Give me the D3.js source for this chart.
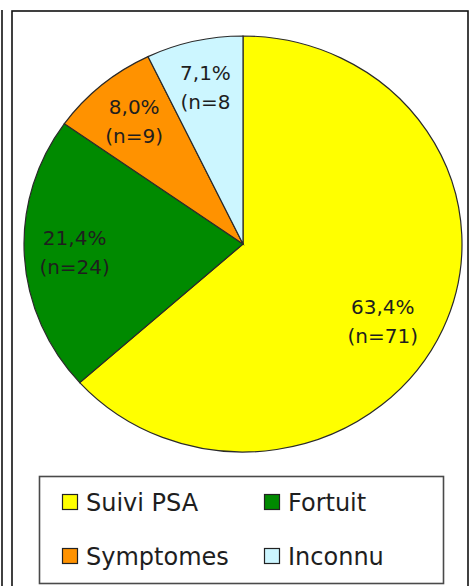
<!DOCTYPE html>
<html>
<head>
<meta charset="utf-8">
<script src="https://cdn.jsdelivr.net/npm/d3@7/dist/d3.min.js"></script>
<style>
html,body{margin:0;padding:0;background:#fff;}
svg{display:block;}
text{font-family:"DejaVu Sans",Verdana,sans-serif;fill:#1e1e1e;}
</style>
</head>
<body>
<svg id="chart" width="472" height="586"></svg>
<script>
const categories = ["Suivi PSA", "Fortuit", "Symptomes", "Inconnu"];
const counts = [71, 24, 9, 8];
const percentLabels = ["63,4%", "21,4%", "8,0%", "7,1%"];
const countLabels = ["(n=71)", "(n=24)", "(n=9)", "(n=8"];
const colors = ["#FFFF00", "#008A00", "#FF9200", "#CCF6FF"];
const legendRows = [["Suivi PSA", "Fortuit"], ["Symptomes", "Inconnu"]];

const svg = d3.select("#chart");

// outer frames
svg.append("line").attr("x1", 2).attr("x2", 2).attr("y1", 10).attr("y2", 586)
  .attr("stroke", "#111").attr("stroke-width", 1.6);
svg.append("rect").attr("x", 12).attr("y", 11).attr("width", 456).attr("height", 590)
  .attr("fill", "none").attr("stroke", "#111").attr("stroke-width", 1.6);

// pie (slightly elliptical)
const cx = 243, cy = 244, rx = 219, ry = 208;
const pie = d3.pie().sort(null).value(d => d)(counts);
const arc = d3.arc().innerRadius(0).outerRadius(ry);
const g = svg.append("g").attr("transform", `translate(${cx},${cy}) scale(${rx / ry},1)`);
g.selectAll("path.slice").data(pie).join("path")
  .attr("class", "slice")
  .attr("d", arc)
  .attr("fill", (d, i) => colors[i])
  .attr("stroke", "#2a2a2a")
  .attr("stroke-width", 1.2)
  .attr("vector-effect", "non-scaling-stroke");

// labels (best-fit style: large slices get their label pulled a bit inward/downward)
const lab = svg.append("g");
pie.forEach((d, i) => {
  const big = (d.endAngle - d.startAngle) > Math.PI;
  const frac = big ? 0.74 : 0.77;
  const shift = big ? 0.11 : 0;
  const r = ry * frac;
  const la = d3.arc().innerRadius(r).outerRadius(r);
  const [px, py] = la.centroid({startAngle: d.startAngle + shift, endAngle: d.endAngle + shift});
  const x = cx + px * rx / ry, y = cy + py;
  const t = lab.append("text").attr("text-anchor", "middle").attr("font-size", 20);
  t.append("tspan").attr("x", x).attr("y", y - 8).text(percentLabels[i]);
  t.append("tspan").attr("x", x).attr("y", y + 21).text(countLabels[i]);
});

// legend
const lg = svg.append("g");
lg.append("rect").attr("x", 39.5).attr("y", 476.5).attr("width", 404).attr("height", 107)
  .attr("fill", "#fff").attr("stroke", "#4a4a4a").attr("stroke-width", 1.6);
const colX = [62, 264], rowY = [494, 548];
legendRows.forEach((row, r) => {
  row.forEach((name, c) => {
    const i = categories.indexOf(name);
    lg.append("rect").attr("x", colX[c] + 0.5).attr("y", rowY[r] + 0.5).attr("width", 15).attr("height", 15)
      .attr("fill", colors[i]).attr("stroke", "#222").attr("stroke-width", 1.2);
    lg.append("text").attr("x", colX[c] + 24).attr("y", rowY[r] + 17)
      .attr("font-size", 24).text(name);
  });
});
</script>
</body>
</html>
